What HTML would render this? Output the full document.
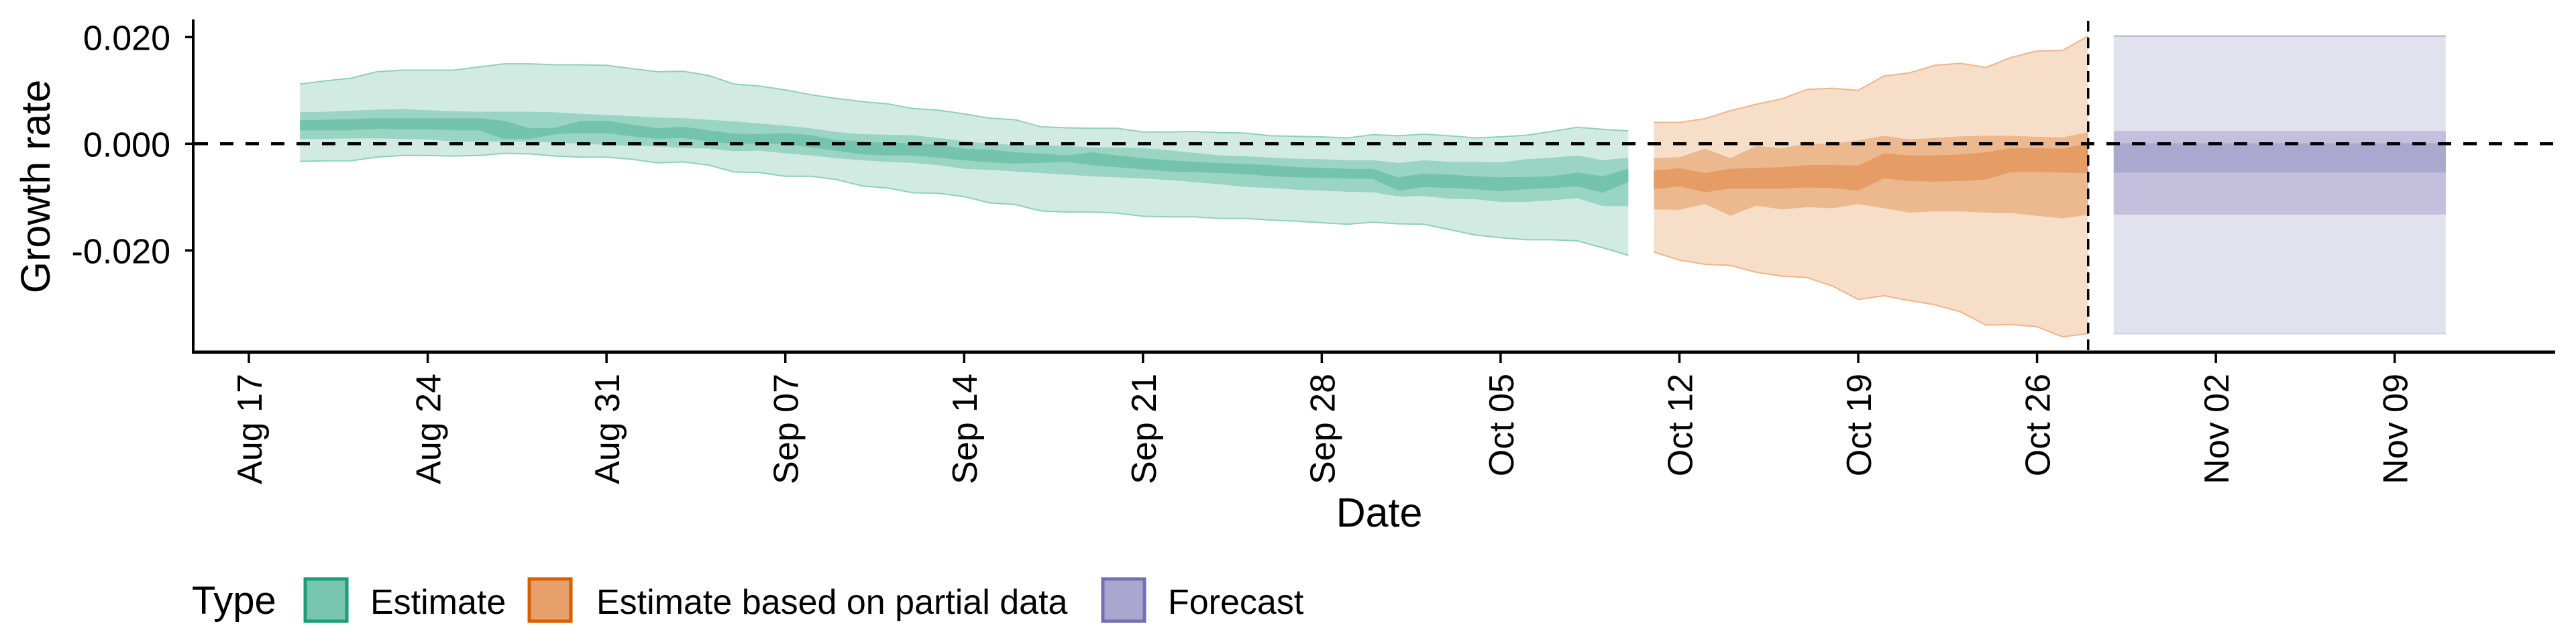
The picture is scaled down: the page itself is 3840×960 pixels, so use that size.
<!DOCTYPE html>
<html><head><meta charset="utf-8"><style>
html,body{margin:0;padding:0;background:#fff}
svg{display:block}
text{font-family:"Liberation Sans",sans-serif;fill:#000}
</style></head><body>
<svg id="chart" width="3840" height="960" viewBox="0 0 3840 960" xmlns="http://www.w3.org/2000/svg">
<g id="bands"></g>
<g id="axes"></g>
<text x="0" y="0" font-size="61" text-anchor="middle" transform="translate(74,278) rotate(-90)">Growth rate</text>
<text x="2056" y="785" font-size="61" text-anchor="middle">Date</text>
<g>
<text x="286" y="915" font-size="58">Type</text>
<rect x="455" y="863" width="62" height="63" fill="#78c5ad" stroke="#1b9e77" stroke-width="5"/>
<text x="552" y="915" font-size="52">Estimate</text>
<rect x="789" y="863" width="62" height="63" fill="#e8a06a" stroke="#d95f02" stroke-width="5"/>
<text x="889" y="915" font-size="52">Estimate based on partial data</text>
<rect x="1644" y="863" width="62" height="63" fill="#a9a7d0" stroke="#7570b3" stroke-width="5"/>
<text x="1741" y="915" font-size="52">Forecast</text>
</g>
</svg>
<script>
// days counted from Aug 17
const estStartDay = 2;
const estU90 = [0.0112,0.0118,0.0123,0.0135,0.0138,0.0138,0.0138,0.0144,0.0150,0.0150,0.0148,0.0148,0.0147,0.0141,0.0135,0.0136,0.0128,0.0112,0.0108,0.0101,0.0092,0.0085,0.0079,0.0075,0.0066,0.0063,0.0056,0.0048,0.0045,0.0032,0.0030,0.0029,0.0029,0.0022,0.0022,0.0023,0.0021,0.0020,0.0015,0.0014,0.0013,0.0011,0.0017,0.0015,0.0018,0.0015,0.0011,0.0013,0.0016,0.0023,0.0031,0.0027,0.0024];
const estL90 = [-0.0033,-0.0032,-0.0032,-0.0025,-0.0022,-0.0022,-0.0023,-0.0022,-0.0018,-0.0019,-0.0023,-0.0025,-0.0025,-0.0029,-0.0036,-0.0034,-0.0040,-0.0053,-0.0054,-0.0061,-0.0061,-0.0067,-0.0079,-0.0083,-0.0092,-0.0093,-0.0099,-0.0111,-0.0114,-0.0126,-0.0128,-0.0128,-0.0130,-0.0136,-0.0137,-0.0137,-0.0140,-0.0140,-0.0143,-0.0145,-0.0148,-0.0151,-0.0147,-0.0150,-0.0151,-0.0161,-0.0171,-0.0176,-0.0180,-0.0180,-0.0182,-0.0195,-0.0209];
const estU50 = [0.0059,0.0060,0.0062,0.0064,0.0065,0.0063,0.0061,0.0060,0.0060,0.0060,0.0059,0.0056,0.0054,0.0052,0.0049,0.0048,0.0045,0.0042,0.0038,0.0034,0.0029,0.0022,0.0018,0.0017,0.0016,0.0011,0.0005,0.0000,-0.0002,-0.0003,-0.0004,-0.0007,-0.0007,-0.0008,-0.0012,-0.0017,-0.0022,-0.0023,-0.0026,-0.0028,-0.0029,-0.0031,-0.0031,-0.0036,-0.0031,-0.0034,-0.0034,-0.0035,-0.0029,-0.0026,-0.0022,-0.0031,-0.0026];
const estL50 = [0.0009,0.0009,0.0010,0.0010,0.0009,0.0008,0.0004,0.0004,0.0004,0.0004,0.0002,0.0000,-0.0002,-0.0004,-0.0005,-0.0008,-0.0009,-0.0014,-0.0013,-0.0018,-0.0022,-0.0027,-0.0031,-0.0034,-0.0036,-0.0040,-0.0047,-0.0049,-0.0052,-0.0055,-0.0058,-0.0061,-0.0063,-0.0065,-0.0068,-0.0072,-0.0076,-0.0081,-0.0083,-0.0086,-0.0088,-0.0090,-0.0091,-0.0099,-0.0098,-0.0103,-0.0104,-0.0109,-0.0109,-0.0106,-0.0102,-0.0117,-0.0117];
const estU20 = [0.0044,0.0045,0.0046,0.0048,0.0048,0.0048,0.0048,0.0048,0.0043,0.0029,0.0030,0.0043,0.0043,0.0036,0.0029,0.0032,0.0025,0.0019,0.0018,0.0020,0.0016,0.0007,0.0004,0.0002,0.0001,-0.0002,-0.0009,-0.0011,-0.0016,-0.0018,-0.0022,-0.0016,-0.0022,-0.0027,-0.0031,-0.0034,-0.0036,-0.0038,-0.0040,-0.0044,-0.0045,-0.0047,-0.0047,-0.0063,-0.0056,-0.0058,-0.0061,-0.0063,-0.0062,-0.0061,-0.0054,-0.0061,-0.0047];
const estL20 = [0.0025,0.0025,0.0025,0.0028,0.0027,0.0027,0.0025,0.0025,0.0009,0.0009,0.0018,0.0020,0.0020,0.0014,0.0009,0.0011,0.0004,0.0000,0.0000,0.0000,-0.0007,-0.0013,-0.0020,-0.0022,-0.0022,-0.0026,-0.0031,-0.0035,-0.0037,-0.0036,-0.0034,-0.0040,-0.0044,-0.0048,-0.0052,-0.0053,-0.0055,-0.0057,-0.0061,-0.0063,-0.0064,-0.0065,-0.0066,-0.0088,-0.0081,-0.0083,-0.0085,-0.0089,-0.0085,-0.0083,-0.0080,-0.0092,-0.0072];

const partStartDay = 55;
const partU90 = [0.0040,0.0040,0.0047,0.0062,0.0074,0.0084,0.0102,0.0104,0.0100,0.0127,0.0133,0.0147,0.0151,0.0143,0.0162,0.0174,0.0175,0.0202];
const partL90 = [-0.0203,-0.0218,-0.0226,-0.0228,-0.0241,-0.0248,-0.0251,-0.0267,-0.0292,-0.0285,-0.0294,-0.0302,-0.0315,-0.0340,-0.0339,-0.0343,-0.0362,-0.0356];
const partU50 = [-0.0027,-0.0025,-0.0009,-0.0027,-0.0004,-0.0008,0.0000,0.0000,0.0006,0.0015,0.0008,0.0011,0.0014,0.0015,0.0015,0.0013,0.0012,0.0022];
const partL50 = [-0.0123,-0.0124,-0.0113,-0.0135,-0.0116,-0.0123,-0.0119,-0.0121,-0.0113,-0.0121,-0.0129,-0.0127,-0.0127,-0.0129,-0.0130,-0.0135,-0.0140,-0.0133];
const partU20 = [-0.0050,-0.0046,-0.0055,-0.0047,-0.0045,-0.0044,-0.0040,-0.0040,-0.0041,-0.0018,-0.0022,-0.0022,-0.0020,-0.0016,-0.0008,-0.0008,-0.0009,0.0001];
const partL20 = [-0.0085,-0.0080,-0.0091,-0.0084,-0.0084,-0.0084,-0.0082,-0.0083,-0.0088,-0.0065,-0.0070,-0.0071,-0.0070,-0.0067,-0.0053,-0.0053,-0.0054,-0.0055];

const fcStartDay = 73;
const fcEndDay = 86;
const fcU90 = 0.0202, fcL90 = -0.0356;
const fcU50 = 0.0024, fcL50 = -0.0133;
const fcU20 = 0.0001, fcL20 = -0.0054;

const yTicks = [0.02, 0, -0.02];
const yTickLabels = ["0.020", "0.000", "-0.020"];
const xTickDays = [0, 7, 14, 21, 28, 35, 42, 49, 56, 63, 70, 77, 84];
const xTickLabels = ["Aug 17","Aug 24","Aug 31","Sep 07","Sep 14","Sep 21","Sep 28","Oct 05","Oct 12","Oct 19","Oct 26","Nov 02","Nov 09"];
const forecastDateDay = 72;

const NS = "http://www.w3.org/2000/svg";
const X = d => 371 + 38.08 * d;
const Y = v => 214.3 - v * 7950;
const bands = document.getElementById('bands');
const axes = document.getElementById('axes');
function mk(tag, parent, attrs){ const e=document.createElementNS(NS,tag); for(const k in attrs) e.setAttribute(k,attrs[k]); parent.appendChild(e); return e; }

function area(start, up, lo, fill, name){
  let pts=[];
  for(let i=0;i<up.length;i++) pts.push(X(start+i).toFixed(1)+','+Y(up[i]).toFixed(1));
  for(let i=lo.length-1;i>=0;i--) pts.push(X(start+i).toFixed(1)+','+Y(lo[i]).toFixed(1));
  const p = mk('polygon', bands, {points:pts.join(' '), fill:fill});
  
  
}
function edge(start, vals, stroke, name){
  const pts = vals.map((v,i)=>X(start+i).toFixed(1)+','+Y(v).toFixed(1)).join(' ');
  const l = mk('polyline', bands, {points:pts, fill:'none', stroke:stroke, 'stroke-width':2});
  
  
}
area(estStartDay, estU90, estL90, '#d2ebe2', 'estimate-band-90');
edge(estStartDay, estU90, '#8fd0bc', 'estimate-upper-edge');
edge(estStartDay, estL90, '#8fd0bc', 'estimate-lower-edge');
area(estStartDay, estU50, estL50, '#9ad4c2', 'estimate-band-50');
area(estStartDay, estU20, estL20, '#74c3ac', 'estimate-band-20');
area(partStartDay, partU90, partL90, '#f7dec9', 'partial-band-90');
edge(partStartDay, partU90, '#efb58a', 'partial-upper-edge');
edge(partStartDay, partL90, '#efb58a', 'partial-lower-edge');
area(partStartDay, partU50, partL50, '#ecb88d', 'partial-band-50');
area(partStartDay, partU20, partL20, '#e59c65', 'partial-band-20');

function rect(d0,d1,u,l,fill,name){
  const r = mk('rect', bands, {x:X(d0), y:Y(u), width:X(d1)-X(d0), height:Y(l)-Y(u), fill:fill});
  
  
}
rect(fcStartDay, fcEndDay, fcU90, fcL90, '#e2e2ee', 'forecast-band-90');
const fe1 = mk('line', bands, {x1:X(fcStartDay), x2:X(fcEndDay), y1:Y(fcU90), y2:Y(fcU90), stroke:'#b4b2d6', 'stroke-width':2});


const fe2 = mk('line', bands, {x1:X(fcStartDay), x2:X(fcEndDay), y1:Y(fcL90), y2:Y(fcL90), stroke:'#cfcde4', 'stroke-width':2});


rect(fcStartDay, fcEndDay, fcU50, fcL50, '#c3bfdd', 'forecast-band-50');
rect(fcStartDay, fcEndDay, fcU20, fcL20, '#aaa8ce', 'forecast-band-20');

// reference lines
const hz = mk('line', axes, {x1:290, x2:3809, y1:Y(0), y2:Y(0), stroke:'#000', 'stroke-width':4.5, 'stroke-dasharray':'20 18'});


const vt = mk('line', axes, {x1:X(forecastDateDay), x2:X(forecastDateDay), y1:31, y2:525, stroke:'#000', 'stroke-width':3.5, 'stroke-dasharray':'16 9'});



// axes
const ya = mk('line', axes, {x1:288, x2:288, y1:29, y2:527, stroke:'#000', 'stroke-width':4});


const xa = mk('line', axes, {x1:286, x2:3809, y1:525, y2:525, stroke:'#000', 'stroke-width':5});


yTicks.forEach((v,i)=>{
  const t = mk('line', axes, {x1:276, x2:288, y1:Y(v), y2:Y(v), stroke:'#000', 'stroke-width':3.5});
  
  
  const lb = mk('text', axes, {x:254, y:Y(v)+19, 'font-size':52, 'text-anchor':'end'});
  lb.textContent = yTickLabels[i];
  
  
});
xTickDays.forEach((d,i)=>{
  const x = X(d);
  const t = mk('line', axes, {x1:x, x2:x, y1:525, y2:541, stroke:'#000', 'stroke-width':3.5});
  
  
  const lb = mk('text', axes, {x:0, y:0, 'font-size':52, 'text-anchor':'end', transform:`translate(${x+19},557) rotate(-90)`});
  lb.textContent = xTickLabels[i];
  
  
});
</script>
</body></html>
